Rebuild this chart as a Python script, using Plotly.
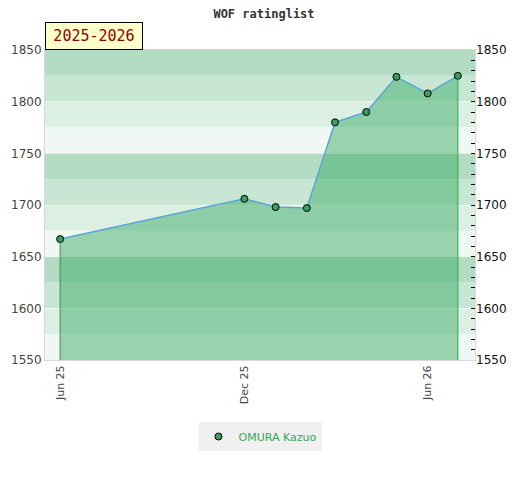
import plotly.graph_objects as go

# rating list dates and ratings
dates = ["2025-06-01", "2025-12-01", "2026-01-01", "2026-02-01", "2026-03-01",
         "2026-04-01", "2026-05-01", "2026-06-01", "2026-07-01"]
ratings = [1667, 1706, 1698, 1697, 1780, 1790, 1824, 1808, 1825]
player = "OMURA Kazuo"
season = "2025-2026"
tick_dates = ["2025-06-01", "2025-12-01", "2026-06-01"]
tick_text = ["Jun 25", "Dec 25", "Jun 26"]

y_min, y_max = 1550, 1850
band_colors = ["#b3dcc3", "#c8e6d4", "#dcefe3", "#f0f8f3"]

fig = go.Figure()

# horizontal background bands, 25 points each
for i, top in enumerate(range(y_max, y_min, -25)):
    fig.add_shape(type="rect", xref="paper", yref="y", x0=0, x1=1, y0=top - 25, y1=top,
                  fillcolor=band_colors[i % 4], line_width=0, layer="below")

fig.add_trace(go.Scatter(
    x=dates, y=ratings, mode="lines+markers", name=player, fill="tozeroy",
    fillcolor="rgba(64,174,106,0.5)",
    line=dict(color="#5aa5d8", width=1.5),
    marker=dict(size=7, color="#3a9e5c", line=dict(color="black", width=1)),
    showlegend=False,
))
# vertical edges of the filled area
fig.add_trace(go.Scatter(x=[dates[0], dates[0]], y=[0, ratings[0]], mode="lines",
                         line=dict(color="#3a8f55", width=1), showlegend=False, hoverinfo="skip"))
fig.add_trace(go.Scatter(x=[dates[-1], dates[-1]], y=[0, ratings[-1]], mode="lines",
                         line=dict(color="#2aa84e", width=1), showlegend=False, hoverinfo="skip"))
# legend entry: marker only
fig.add_trace(go.Scatter(x=[None], y=[None], mode="markers", name=player,
                         marker=dict(size=7, color="#3a9e5c", line=dict(color="black", width=1))))
# invisible trace for the right axis
fig.add_trace(go.Scatter(x=[dates[0]], y=[ratings[0]], yaxis="y2", mode="markers",
                         marker=dict(opacity=0), showlegend=False, hoverinfo="skip"))

fig.update_layout(
    width=512, height=472,
    margin=dict(l=37, r=45, t=42, b=120, autoexpand=False),
    paper_bgcolor="white", plot_bgcolor="rgba(0,0,0,0)",
    font=dict(family="DejaVu Sans", size=11, color="#444"),
    title=dict(text="<b>WOF ratinglist</b>", x=0.5, xanchor="center", y=0.997, yanchor="top",
               font=dict(family="DejaVu Sans Mono", size=12, color="#333")),
    xaxis=dict(type="date", range=["2025-05-17", "2026-07-18"], tickvals=tick_dates,
               ticktext=tick_text, tickangle=-90, showgrid=False, zeroline=False,
               showline=True, linecolor="#d8d8d8", mirror=True, ticks="", automargin=False,
               tickfont=dict(size=11, color="#444")),
    yaxis=dict(range=[y_min, y_max], tickvals=list(range(y_min, y_max + 1, 50)),
               showgrid=True, gridcolor="rgba(255,255,255,0.5)", dtick=25,
               zeroline=False, showline=True, linecolor="#d8d8d8", mirror=True,
               ticks="", automargin=False, tickfont=dict(size=12, color="#444")),
    yaxis2=dict(range=[y_min, y_max], overlaying="y", side="right",
                tickvals=list(range(y_min, y_max + 1, 50)), showgrid=False, zeroline=False,
                ticks="inside", ticklen=4, tickcolor="black", automargin=False,
                minor=dict(dtick=10, ticks="inside", ticklen=4, tickcolor="black"),
                tickfont=dict(size=12, color="#111")),
    legend=dict(orientation="h", x=0.5, xanchor="center", y=-0.2, yanchor="top",
                bgcolor="#f0f0f0", font=dict(size=11, color="#33a852")),
    annotations=[dict(text=season, xref="paper", yref="paper", x=0, y=1, xanchor="left",
                      yanchor="bottom", showarrow=False, bgcolor="#ffffcc", bordercolor="black",
                      borderwidth=1, borderpad=4, width=88, height=18,
                      font=dict(family="DejaVu Sans Mono", size=15, color="#8b0000"))],
)

fig.write_html("out.html")
